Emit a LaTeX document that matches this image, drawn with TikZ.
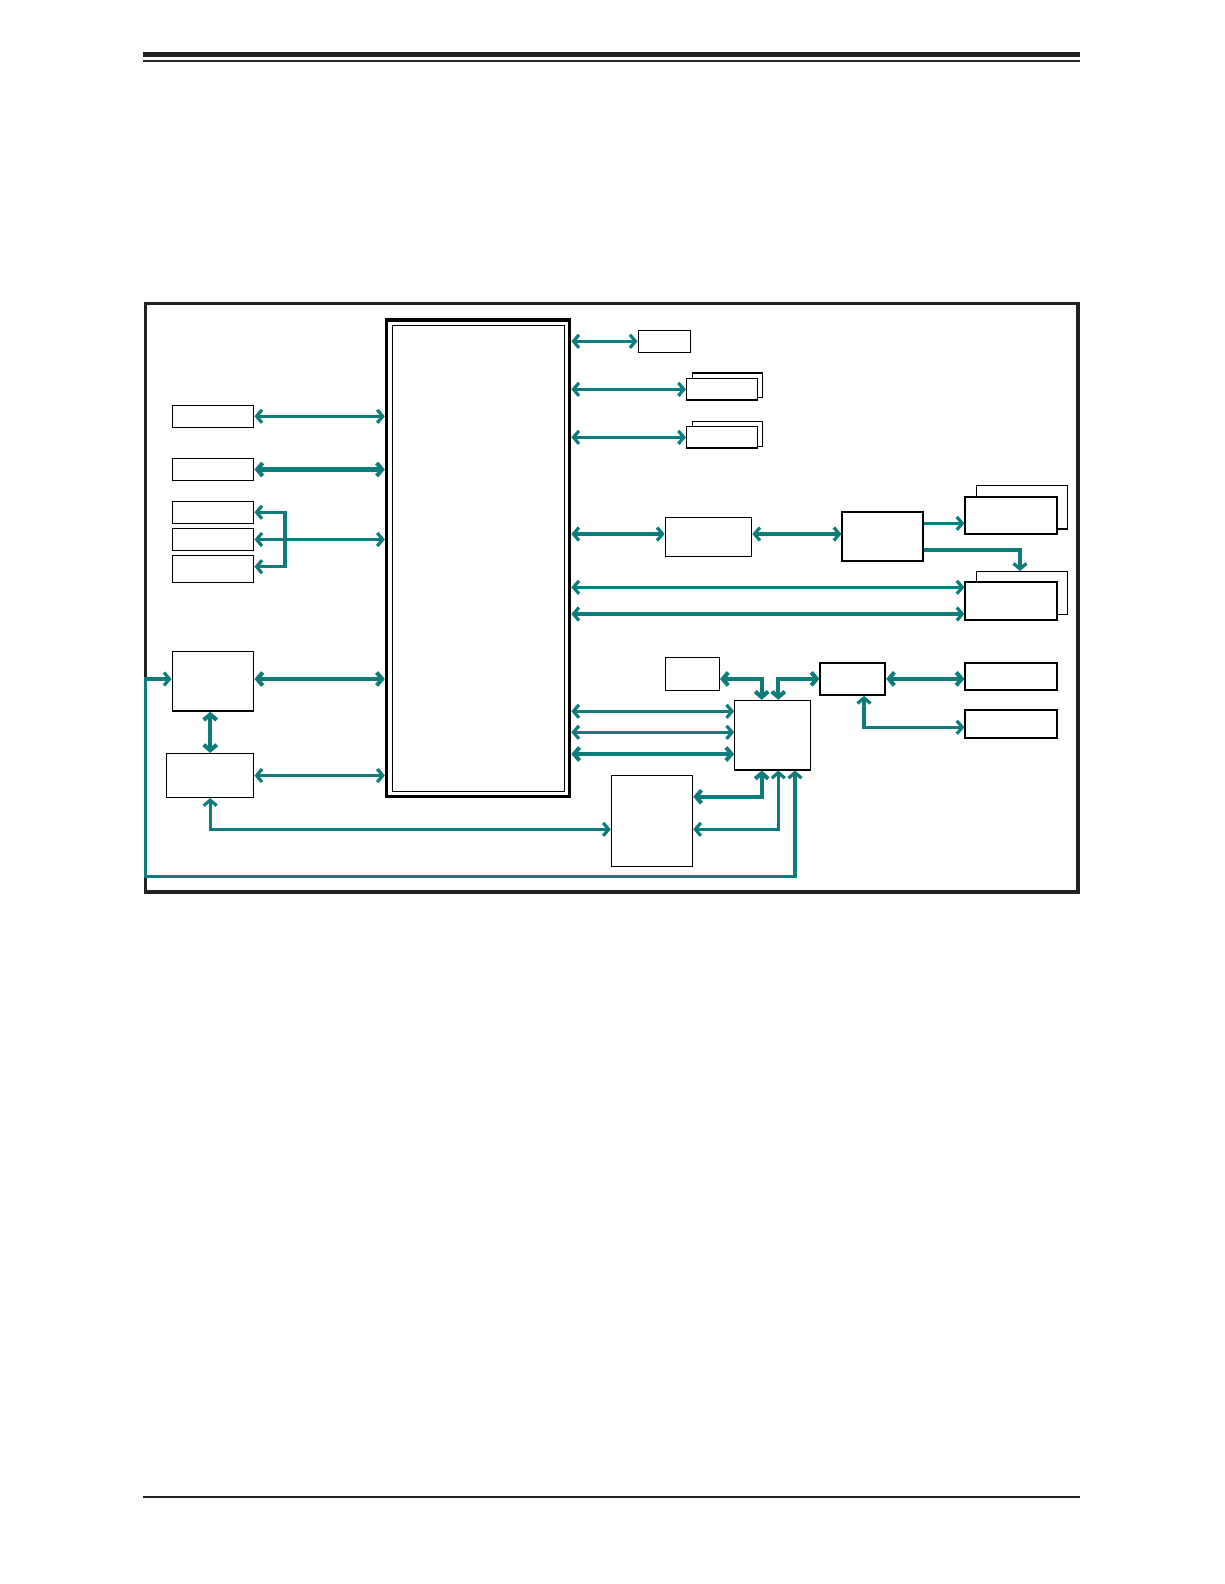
\documentclass[tikz,border=0pt]{standalone}
\usetikzlibrary{arrows.meta}
\definecolor{busteal}{RGB}{14,124,123}
\definecolor{rulegray}{RGB}{34,34,34}
\begin{document}
\begin{tikzpicture}[
  x=1pt, y=-1pt,
  every node/.style={draw,rectangle,inner sep=0pt,fill=white,line width=1.5pt},
  >={Straight Barb[length=5.5pt,width=13pt]},
  bus/.style={draw=busteal,line width=3.2pt},
  wbus/.style={draw=busteal,line width=4.1pt}
]
  \useasboundingbox (0,0) rectangle (1224,1584);
  % page rules and frame
  \fill[rulegray] (143,52) rectangle (1080,56.6);
  \fill[rulegray] (143,60.2) rectangle (1080,61.9);
  \fill[rulegray] (143,1496) rectangle (1080,1498.2);
  \draw[rulegray,line width=3.5pt] (145.7,303.7) rectangle (1078,892);

  % main chip
  \node[line width=3.3pt,minimum width=183.2pt,minimum height=476.7pt] (soc) at (478.1,558.35) {};
  \draw[line width=0.9pt] ([xshift=7.4pt,yshift=-7.2pt]soc.north west) rectangle ([xshift=-7.4pt,yshift=7.2pt]soc.south east);

  % left side
  \node[minimum width=81.4pt,minimum height=22pt]   (l1) at (213,416.3) {};
  \node[minimum width=81.4pt,minimum height=21.6pt] (l2) at (213,469.5) {};
  \node[minimum width=81.4pt,minimum height=22pt]   (l3) at (213,512.3) {};
  \node[minimum width=81.4pt,minimum height=21.6pt] (l4) at (213,539.5) {};
  \node[minimum width=81.4pt,minimum height=26.6pt] (l5) at (213,569) {};
  \node[minimum width=81.4pt,minimum height=59.3pt] (p1) at (213,681.35) {};
  \node[minimum width=87pt,minimum height=43.6pt]   (p2) at (210.2,775.5) {};

  % right side, top
  \node[minimum width=52pt,minimum height=22pt] (r1) at (664.3,341.3) {};
  \node[line width=1.3pt,minimum width=70.4pt,minimum height=24.7pt] (r2b) at (727.5,385.35) {};
  \node[minimum width=70.6pt,minimum height=21.3pt] (r2) at (722,389.35) {};
  \node[line width=1.3pt,minimum width=70.4pt,minimum height=24.6pt] (r3b) at (727.5,434) {};
  \node[minimum width=70.6pt,minimum height=21.3pt] (r3) at (722,437.35) {};
  \node[line width=1.3pt,minimum width=86.4pt,minimum height=39pt] (m1) at (708.5,536.8) {};
  \node[line width=1.7pt,minimum width=80.7pt,minimum height=48.7pt] (m2) at (882.65,536.65) {};
  \node[line width=1.3pt,minimum width=91.4pt,minimum height=43.7pt] (s1b) at (1022,507.2) {};
  \node[line width=1.8pt,minimum width=92pt,minimum height=37.3pt] (s1) at (1011.3,515.35) {};
  \node[line width=1.3pt,minimum width=91.4pt,minimum height=42.6pt] (s2b) at (1022,593) {};
  \node[line width=1.8pt,minimum width=92pt,minimum height=37.7pt] (s2) at (1011.3,601.15) {};

  % right side, bottom
  \node[minimum width=54pt,minimum height=33pt] (b1) at (692.3,673.8) {};
  \node[line width=1.1pt,minimum width=75.6pt,minimum height=69.7pt] (hub) at (772.5,735.15) {};
  \node[line width=1.7pt,minimum width=65pt,minimum height=32.3pt] (b2) at (852.8,678.85) {};
  \node[line width=1.8pt,minimum width=92pt,minimum height=27.6pt] (b3) at (1011.3,676.5) {};
  \node[line width=1.8pt,minimum width=92pt,minimum height=28pt] (b4) at (1011.3,724.3) {};
  \node[line width=1.1pt,minimum width=81.4pt,minimum height=91.4pt] (b5) at (652,821) {};

  % left connectors
  \draw[bus,<->] (l1.east) -- (l1.east -| soc.west);
  \draw[wbus,<->] (l2.east) -- (l2.east -| soc.west);
  \coordinate (brk) at (285,539.3);
  \draw[bus,<->] (l4.east) -- (l4.east -| soc.west);
  \draw[bus,->] (brk) |- (l3.east);
  \draw[bus,->] (brk) |- ([yshift=2.3pt]l5.east);
  \draw[wbus,<->] ([yshift=2.35pt]p1.east) -- ([yshift=2.35pt]p1.east -| soc.west);
  \draw[wbus,<->] (p2.north) -- (p2.north |- p1.south);
  \draw[bus,<->] (p2.east) -- (p2.east -| soc.west);
  \draw[bus,<->] (p2.south) |- ([yshift=-8.3pt]b5.west);

  % right connectors, top
  \draw[bus,<->] (r1.west -| soc.east) -- (r1.west);
  \draw[bus,<->] (r2.west -| soc.east) -- (r2.west);
  \draw[bus,<->] (r3.west -| soc.east) -- (r3.west);
  \draw[bus,<->] ([yshift=2.8pt]m1.west -| soc.east) -- ([yshift=2.8pt]m1.west);
  \draw[bus,<->] ([yshift=2.8pt]m1.east) -- ([yshift=2.8pt]m1.east -| m2.west);
  \draw[bus,->] ([yshift=13.3pt]m2.east) -- ([yshift=13.3pt]m2.east -| s1.west);
  \draw[bus,->] ([yshift=-13.3pt]m2.east) -| ([xshift=-2pt]s2b.north);
  \draw[bus,<->] ([yshift=13.85pt]s2.west -| soc.east) -- ([yshift=13.85pt]s2.west);
  \draw[bus,<->] ([yshift=-12.85pt]s2.west -| soc.east) -- ([yshift=-12.85pt]s2.west);

  % right connectors, bottom
  \draw[bus,<->] ([yshift=23.85pt]hub.west -| soc.east) -- ([yshift=23.85pt]hub.west);
  \draw[bus,<->] ([yshift=2.85pt]hub.west -| soc.east) -- ([yshift=2.85pt]hub.west);
  \draw[wbus,<->] ([yshift=-18.85pt]hub.west -| soc.east) -- ([yshift=-18.85pt]hub.west);
  \draw[wbus,<->] ([yshift=-5.2pt]b1.east) -| ([xshift=-10.8pt]hub.north);
  \draw[wbus,<->] (b2.west) -| ([xshift=5.8pt]hub.north);
  \draw[wbus,<->] (b2.east) -- (b2.east -| b3.west);
  \draw[bus,<->] ([xshift=11.2pt]b2.south) |- ([yshift=-3pt]b4.west);
  \draw[wbus,<->] ([xshift=-10.8pt]hub.south) |- ([yshift=24.3pt]b5.east);
  \draw[bus,<->] ([xshift=5.8pt]hub.south) |- ([yshift=-8.3pt]b5.east);
  \coordinate (lc) at (145.7,876.7);
  \draw[bus,<->] ([xshift=22.5pt]hub.south) |- (lc) |- ([yshift=2.35pt]p1.west);
\end{tikzpicture}
\end{document}
